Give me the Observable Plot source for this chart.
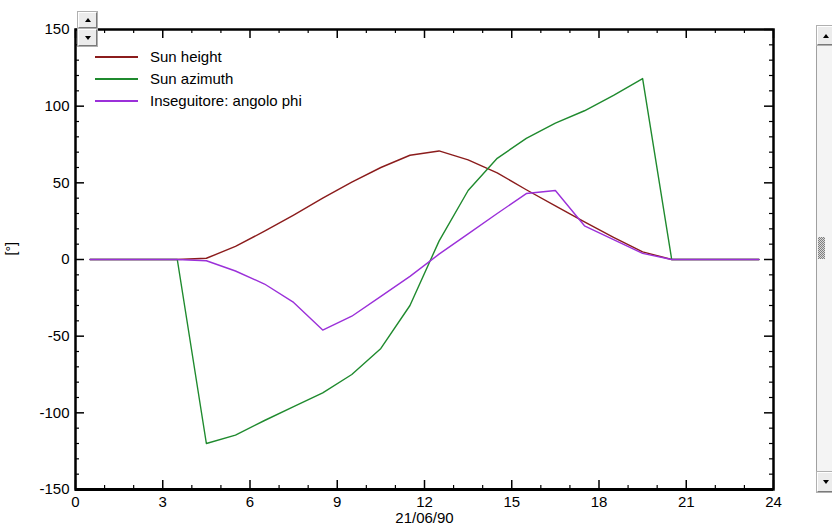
<!DOCTYPE html>
<html><head><meta charset="utf-8">
<script src="https://cdn.jsdelivr.net/npm/d3@7"></script>
<script src="https://cdn.jsdelivr.net/npm/@observablehq/plot@0.6"></script>
<style>
body{margin:0;background:#fff;font-family:"Liberation Sans",Arial,sans-serif;}
#wrap{position:relative;width:832px;height:528px;overflow:hidden;background:#fff;}
#wrap svg{position:absolute;left:0;top:0;}
.btn{position:absolute;background:#ececec;box-sizing:border-box;border:1px solid;border-color:#fff #7a7a7a #7a7a7a #fff;box-shadow:0 0 0 1px #b0b0b0;}
.tri{position:absolute;left:50%;top:50%;width:0;height:0;border-left:3px solid transparent;border-right:3px solid transparent;transform:translate(-50%,-50%);}
.up{border-bottom:4px solid #000;}
.dn{border-top:4px solid #000;}
.leg{position:absolute;font-size:15px;line-height:15px;color:#000;white-space:nowrap;}
.legline{position:absolute;height:1.5px;width:43px;}
</style></head><body><div id="wrap"></div>
<script>
// ---- data ----
const hours = [0.5,1.5,2.5,3.5,4.5,5.5,6.5,7.5,8.5,9.5,10.5,11.5,12.5,13.5,14.5,15.5,16.5,17.5,18.5,19.5,20.5,21.5,22.5,23.5];
const sunHeight = [0,0,0,0,0.8,8.5,18.5,29,40,50.5,60,68,70.8,65,56.5,45.5,35,24.5,14.5,5,0,0,0,0];
const sunAzimuth = [0,0,0,0,-120,-114.5,-105,-96,-87,-75,-58,-30,12,45,66,79,89,97,107,118,0,0,0,0];
const trackerPhi = [0,0,0,0,-0.8,-7.5,-16,-28,-46,-37,-24,-11,3.5,16.7,30,43,45,22,13,4,0,0,0,0];
const seriesNames = ["Sun height","Sun azimuth","Inseguitore: angolo phi"];
const seriesColors = ["#8b1c1c","#1f8a2e","#9b30d9"];
const xTicks = [0,3,6,9,12,15,18,21,24];
const xMinorTicks = [1,2,4,5,7,8,10,11,13,14,16,17,19,20,22,23];
const yTicks = [-150,-100,-50,0,50,100,150];
const yMinorTicks = [-140,-130,-120,-110,-90,-80,-70,-60,-40,-30,-20,-10,10,20,30,40,60,70,80,90,110,120,130,140];
const xDomain = [0,24];
const yDomain = [-150,150];
const xLabel = "21/06/90";
const yLabel = "[°]";

// ---- layout ----
const W = 832, H = 528, mL = 75, mR = 59, mT = 29, mB = 39;
const iW = W - mL - mR, iH = H - mT - mB;
const seriesValues = [sunHeight, sunAzimuth, trackerPhi];

const lines = seriesValues.map((vals, k) =>
  Plot.line(hours.map((h, i) => ({h, v: vals[i]})), {x: "h", y: "v", stroke: seriesColors[k], strokeWidth: 1.4})
);

const chart = Plot.plot({
  width: W, height: H,
  marginLeft: mL, marginRight: mR, marginTop: mT, marginBottom: mB,
  style: {fontFamily: "'Liberation Sans', Arial, sans-serif", fontSize: "15px", background: "#fff", color: "#000"},
  x: {domain: xDomain},
  y: {domain: yDomain},
  marks: [
    ...lines,
    // inward tick marks on all four sides
    Plot.tickX(xTicks, {x: d => d, insetTop: iH - 9, strokeWidth: 1.5}),
    Plot.tickX(xTicks, {x: d => d, insetBottom: iH - 9, strokeWidth: 1.5}),
    Plot.tickX(xMinorTicks, {x: d => d, insetTop: iH - 4, strokeWidth: 1.2}),
    Plot.tickX(xMinorTicks, {x: d => d, insetBottom: iH - 4, strokeWidth: 1.2}),
    Plot.tickY(yTicks, {y: d => d, insetRight: iW - 9, strokeWidth: 1.5}),
    Plot.tickY(yTicks, {y: d => d, insetLeft: iW - 9, strokeWidth: 1.5}),
    Plot.tickY(yMinorTicks, {y: d => d, insetRight: iW - 4, strokeWidth: 1.2}),
    Plot.tickY(yMinorTicks, {y: d => d, insetLeft: iW - 4, strokeWidth: 1.2}),
    Plot.frame({stroke: "#000", strokeWidth: 2.5}),
    Plot.ruleY([yDomain[0]], {stroke: "#000", strokeWidth: 3}),
    Plot.axisX({ticks: xTicks, tickSize: 0, tickPadding: 7, label: null, fontSize: 15, tickFormat: d => String(d)}),
    Plot.axisY({ticks: yTicks, tickSize: 0, tickPadding: 6, label: null, fontSize: 15, tickFormat: d => String(d)}),
    Plot.text([xLabel], {text: d => d, frameAnchor: "bottom", dy: 29, lineAnchor: "middle", fontSize: 15}),
    Plot.text([yLabel], {text: d => d, frameAnchor: "left", dx: -64, dy: -4, rotate: -90, lineAnchor: "middle", fontSize: 14})
  ]
});

const wrap = document.getElementById("wrap");
wrap.appendChild(chart);

// ---- legend (inside plot, top-left) ----
seriesNames.forEach((name, k) => {
  const y = 57 + k * 22;
  const ln = document.createElement("div");
  ln.className = "legline";
  ln.style.left = "95px"; ln.style.top = (y - 0.75) + "px"; ln.style.backgroundColor = seriesColors[k];
  wrap.appendChild(ln);
  const t = document.createElement("div");
  t.className = "leg";
  t.textContent = name;
  t.style.left = "150px"; t.style.top = (y - 8) + "px";
  wrap.appendChild(t);
});

// ---- window widgets (spin buttons, scrollbar) ----
function box(x, y, w, h, cls, extra) {
  const b = document.createElement("div");
  b.className = cls;
  Object.assign(b.style, {left: x + "px", top: y + "px", width: w + "px", height: h + "px"}, extra || {});
  wrap.appendChild(b);
  return b;
}
function tri(parent, dir) {
  const t = document.createElement("div");
  t.className = "tri " + dir;
  parent.appendChild(t);
}
tri(box(78, 12, 19, 16, "btn"), "up");
tri(box(78, 29, 19, 17, "btn"), "dn");
// scrollbar on the right
box(816, 25, 20, 468, "", {position: "absolute", background: "#f4f4f4", border: "1px solid #a0a0a0", boxSizing: "border-box"});
tri(box(817, 26, 18, 19, "btn"), "up");
tri(box(817, 472, 18, 20, "btn"), "dn");
box(818, 237, 7, 22, "", {position: "absolute", backgroundColor: "#bdbdbd",
  backgroundImage: "repeating-conic-gradient(#7f7f7f 0% 25%, #d8d8d8 0% 50%)", backgroundSize: "2px 2px"});
</script>
</body></html>
